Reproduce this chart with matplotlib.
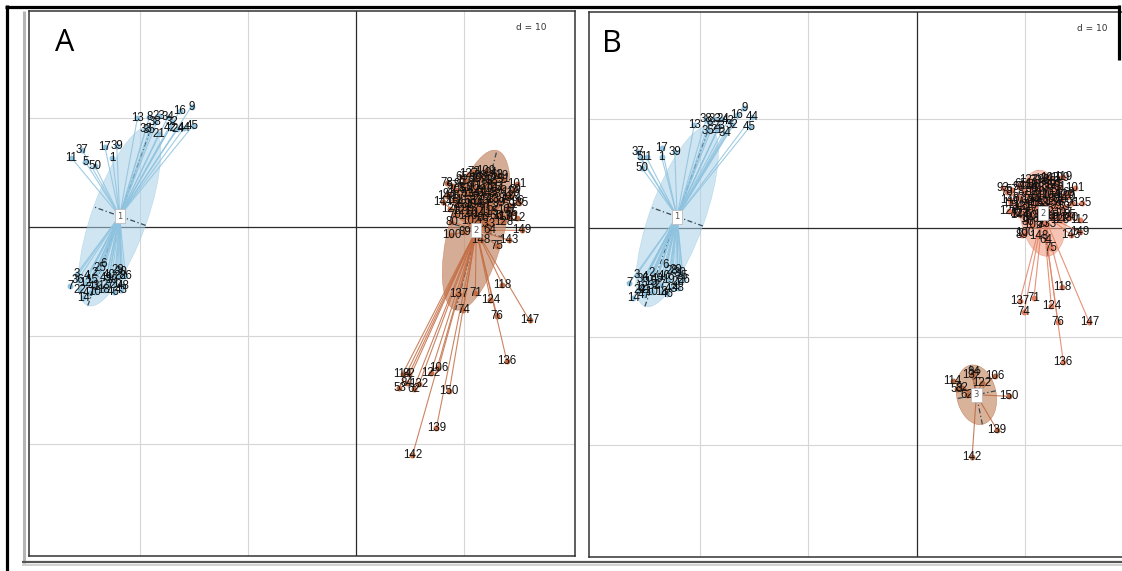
import matplotlib.pyplot as plt
import numpy as np
from matplotlib.lines import Line2D
from matplotlib.patches import Ellipse

W, H = 1122, 571

ids = list(range(1, 151))

# panel A: two classes (1 = ids 1-50, 2 = ids 51-150)
a_x = [
    -22.5, -24.1, -25.8, -24.8, -25.0, -23.3, -26.4, -19.1, -15.2, -24.1,
    -26.3, -25.0, -20.2, -25.2, -24.4, -16.3, -23.2, -23.3, -22.6, -22.2,
    -18.2, -25.5, -18.2, -16.5, -23.7, -21.3, -22.9, -21.8, -22.0, -21.7,
    -23.7, -17.0, -19.4, -17.4, -19.1, -25.7, -25.3, -18.6, -22.1, -22.8,
    -24.2, -17.2, -21.7, -15.9, -15.1, -22.4, -24.6, -21.5, -23.1, -24.1,
    10.2, 12.6, 4.0, 9.4, 13.4, 11.0, 8.9, 12.2, 14.1, 10.7,
    11.6, 5.3, 13.0, 12.3, 9.8, 12.9, 11.9, 10.5, 14.6, 9.1,
    11.0, 12.5, 10.9, 9.9, 13.0, 13.0, 11.3, 8.4, 13.8, 8.8,
    10.0, 4.9, 12.1, 4.7, 14.4, 11.7, 9.5, 12.8, 10.0, 10.8,
    13.6, 11.2, 8.6, 12.4, 10.3, 14.9, 9.6, 11.5, 13.2, 8.8,
    14.8, 10.6, 11.3, 12.7, 9.3, 7.6, 13.9, 10.9, 12.0, 14.2,
    9.0, 14.8, 11.8, 4.3, 12.3, 10.1, 13.5, 13.5, 13.2, 14.3,
    9.7, 6.9, 11.4, 12.4, 12.7, 8.7, 10.4, 13.6, 11.1, 14.0,
    9.9, 5.8, 12.0, 10.6, 15.0, 13.9, 9.5, 12.9, 7.4, 8.4,
    11.6, 5.2, 14.1, 8.0, 12.2, 10.3, 16.0, 11.5, 15.3, 8.6,
]
a_y = [
    6.4, -4.2, -4.3, -4.5, 6.0, -3.4, -5.4, 10.1, 11.1, -6.0,
    6.4, -5.2, 10.0, -6.5, -4.9, 10.7, 7.4, -5.8, -4.9, -5.3,
    8.6, -5.8, 10.2, 9.0, -3.8, -4.5, -5.3, -4.5, -4.0, -4.1,
    -5.4, 9.7, 9.0, 10.1, 8.9, -4.9, 7.1, 9.7, 7.5, -4.4,
    -5.5, 9.1, -5.8, 9.1, 9.3, -6.0, -6.1, -5.4, -4.7, 5.6,
    3.1, 1.8, -14.8, 2.2, 3.6, 4.4, 3.8, 2.5, 2.0, 1.3,
    3.3, -14.9, 4.8, -0.3, 4.6, 1.0, 2.0, 2.4, 3.4, 1.1,
    -6.1, 3.9, 5.1, -7.6, -1.7, -8.2, 1.6, 4.1, 2.7, 0.5,
    3.6, -13.5, 4.2, -14.4, 1.3, 0.8, 2.9, 3.0, -0.5, 3.7,
    4.4, 2.8, 3.0, 5.0, 1.8, 2.4, 4.0, 4.7, 2.2, -0.7,
    4.0, 0.6, 4.5, 3.5, 3.4, -13.0, 1.6, 2.1, 5.2, 3.1,
    2.5, 0.8, 3.8, -13.5, 1.4, 4.2, 1.0, -5.3, 4.7, 2.9,
    1.5, -13.4, 2.4, -6.7, 4.3, 1.7, 4.9, 0.5, 3.4, 0.9,
    2.0, -14.5, 0.3, 3.0, 2.2, -12.3, -6.2, 2.6, -18.5, 2.9,
    1.2, -21.0, -1.2, 2.3, 3.1, 1.0, -8.6, -1.2, -0.3, -15.1,
]
a_group = [1] * 50 + [2] * 100

# panel B: three classes (class 3 split off from class 2)
b_x = [
    -23.5, -24.4, -25.8, -25.0, -25.5, -23.1, -26.5, -19.1, -15.9, -24.4,
    -24.9, -25.4, -20.5, -26.1, -24.5, -16.6, -23.5, -23.5, -22.9, -22.0,
    -18.4, -25.5, -18.2, -17.9, -21.6, -21.5, -23.7, -22.6, -22.2, -21.8,
    -24.2, -17.0, -18.6, -17.7, -19.2, -25.2, -25.7, -19.4, -22.3, -23.3,
    -25.0, -17.4, -22.6, -15.2, -15.4, -23.0, -25.1, -22.0, -23.9, -25.3,
    10.4, 12.1, 3.7, 9.2, 12.9, 10.8, 8.8, 11.6, 13.6, 10.5,
    11.4, 4.6, 12.7, 11.9, 9.6, 12.5, 11.8, 10.1, 14.0, 9.0,
    10.8, 12.3, 11.0, 9.9, 12.4, 13.0, 11.1, 8.3, 13.3, 10.2,
    9.9, 4.2, 12.0, 5.3, 14.1, 11.5, 9.4, 12.6, 9.7, 10.6,
    13.2, 11.0, 7.9, 12.0, 10.2, 14.3, 9.4, 11.7, 12.8, 10.0,
    14.6, 10.7, 12.3, 12.4, 10.9, 7.2, 13.5, 10.8, 13.2, 13.8,
    8.7, 15.0, 11.4, 3.3, 12.2, 10.3, 13.1, 13.4, 13.5, 13.6,
    9.5, 6.0, 11.2, 12.4, 12.6, 8.5, 10.3, 13.2, 11.0, 14.0,
    9.8, 5.1, 12.0, 10.5, 15.2, 13.5, 9.5, 12.7, 7.4, 8.6,
    11.6, 5.1, 14.2, 9.5, 11.9, 10.4, 15.9, 11.2, 15.0, 8.5,
]
b_y = [
    6.5, -4.1, -4.3, -4.5, 6.5, -3.4, -5.1, 9.8, 11.1, -5.9,
    6.5, -5.4, 9.5, -6.4, -5.0, 10.4, 7.4, -5.9, -4.8, -5.0,
    9.0, -5.7, 9.4, 10.0, -4.4, -4.8, -5.2, -4.0, -3.9, -4.1,
    -5.3, 9.5, 10.0, 8.8, 8.9, -4.7, 7.0, 10.0, 7.0, -4.4,
    -5.7, 9.9, -5.6, 10.2, 9.3, -6.1, -6.2, -5.5, -4.7, 5.5,
    2.9, 1.5, -14.8, 2.0, 3.4, 4.0, 3.5, 2.2, 1.9, 1.1,
    3.1, -15.4, 4.2, -1.1, 4.1, 0.9, 1.8, 2.4, 3.2, 1.4,
    -6.4, 3.6, 4.3, -7.7, -1.8, -8.7, 1.6, 3.3, 2.6, 0.6,
    3.3, -14.7, 3.9, -13.3, 1.2, 0.5, 2.8, 2.7, -0.6, 3.6,
    3.8, 2.7, 3.7, 4.5, 1.7, 2.3, 3.8, 4.4, 2.0, -0.5,
    3.7, 0.3, 4.6, 3.0, 4.1, -13.6, 1.4, 2.1, 4.6, 2.9,
    2.3, 0.7, 3.7, -14.1, 1.1, 3.9, 0.9, -5.4, 4.7, 3.0,
    1.3, -14.3, 2.3, -7.2, 4.0, 1.6, 4.4, 0.7, 3.3, 0.9,
    1.9, -13.5, 0.4, 2.6, 2.3, -12.3, -6.7, 2.4, -18.6, 2.6,
    1.2, -21.1, -0.6, 1.2, 2.9, 0.8, -8.7, -0.7, -0.4, -15.5,
]
b_class3_ids = [53, 62, 82, 84, 106, 114, 122, 132, 139, 142, 150]
b_group = [1 if i <= 50 else (3 if i in b_class3_ids else 2) for i in ids]

# line colour, ellipse fill colour, fill alpha
a_colors = {1: ("#8fc3df", "#a9d1e8", 0.55), 2: ("#c46e45", "#c48b6a", 0.7)}
b_colors = {1: ("#8fc3df", "#a9d1e8", 0.55), 2: ("#e47f60", "#f0a58c", 0.65),
            3: ("#b8693f", "#c99270", 0.7)}

XLIM = (-30.2, 20.2)
YLIM = (-30.3, 19.9)
ELLIPSE_SIZE = 1.2
LABEL_FONT = "Liberation Sans"


def px_box(left, top, right, bottom):
    return [left / W, 1 - bottom / H, (right - left) / W, (bottom - top) / H]


def frame_line(fig, xs, ys, color, lw):
    fig.add_artist(Line2D([x / W for x in xs], [1 - y / H for y in ys],
                          transform=fig.transFigure, color=color, lw=lw,
                          solid_capstyle="butt"))


def draw_panel(ax, xs, ys, groups, colors, letter, letter_x):
    xs = np.asarray(xs)
    ys = np.asarray(ys)
    groups = np.asarray(groups)
    ax.set_xlim(*XLIM)
    ax.set_ylim(*YLIM)
    ax.set_xticks([])
    ax.set_yticks([])
    for v in (-20, -10, 10):
        ax.axvline(v, color="#d6d6d6", lw=0.8, zorder=0)
        ax.axhline(v, color="#d6d6d6", lw=0.8, zorder=0)
    ax.axvline(0, color="#2a2a2a", lw=0.9, zorder=0.5)
    ax.axhline(0, color="#2a2a2a", lw=0.9, zorder=0.5)
    for s in ax.spines.values():
        s.set_color("#333333")
        s.set_linewidth(1.1)

    for g in np.unique(groups):
        m = groups == g
        gx, gy = xs[m], ys[m]
        cx, cy = gx.mean(), gy.mean()
        line_c, fill_c, fill_a = colors[g]
        cov = np.cov(gx, gy, bias=True)
        vals, vecs = np.linalg.eigh(cov)
        major = ELLIPSE_SIZE * np.sqrt(vals[1])
        minor = ELLIPSE_SIZE * np.sqrt(vals[0])
        angle = np.degrees(np.arctan2(vecs[1, 1], vecs[0, 1]))
        ax.add_patch(Ellipse((cx, cy), 2 * major, 2 * minor, angle=angle,
                             fc=fill_c, ec=line_c, lw=0.4, alpha=fill_a,
                             zorder=1))
        for k, half in ((1, major), (0, minor)):
            dx, dy = vecs[0, k] * half, vecs[1, k] * half
            ax.plot([cx - dx, cx + dx], [cy - dy, cy + dy], ls=(0, (4, 2, 1, 2)),
                    color="#3a4a55", lw=0.9, zorder=2)
        for px, py in zip(gx, gy):
            ax.plot([cx, px], [cy, py], color=line_c, lw=0.8, alpha=0.85,
                    zorder=2)
        ax.plot(gx, gy, "o", ms=3.2, color=line_c, mec=line_c, zorder=3)
        ax.text(cx, cy, str(g), ha="center", va="center", fontsize=6,
                color="#555555", zorder=6,
                bbox=dict(boxstyle="square,pad=0.3", fc="white",
                          ec="#bbbbbb", lw=0.6))

    for lab, px, py in zip(ids, xs, ys):
        ax.text(px, py, str(lab), ha="center", va="center", fontsize=8.3,
                family=LABEL_FONT, color="#111111", zorder=5)

    ax.text(letter_x, 0.969, letter, transform=ax.transAxes, ha="left",
            va="top", fontsize=22, family="Open Sans", color="black")
    ax.text(0.92, 0.97, "d = 10", transform=ax.transAxes, ha="center",
            va="center", fontsize=6.5, color="#333333",
            bbox=dict(boxstyle="square,pad=0.2", fc="white", ec="none"))


fig = plt.figure(figsize=(W / 100, H / 100), dpi=100)

ax_a = fig.add_axes(px_box(29, 11, 575, 556))
draw_panel(ax_a, a_x, a_y, a_group, a_colors, "A", 0.048)

ax_b = fig.add_axes(px_box(589, 12, 1136, 557))
draw_panel(ax_b, b_x, b_y, b_group, b_colors, "B", 0.024)

# screenshot frame around the panels
frame_line(fig, [7, 7], [5, 571], "black", 2.3)
frame_line(fig, [5, 1120], [7, 7], "black", 2.3)
frame_line(fig, [1119, 1119], [5, 60], "black", 2.3)
frame_line(fig, [24, 24], [11, 563], "#b5b5b5", 2.2)
frame_line(fig, [22, 1122], [562, 562], "#555555", 1.6)
frame_line(fig, [22, 1122], [565, 565], "#c8c8c8", 1.2)

fig.savefig("out.png", dpi=100)
